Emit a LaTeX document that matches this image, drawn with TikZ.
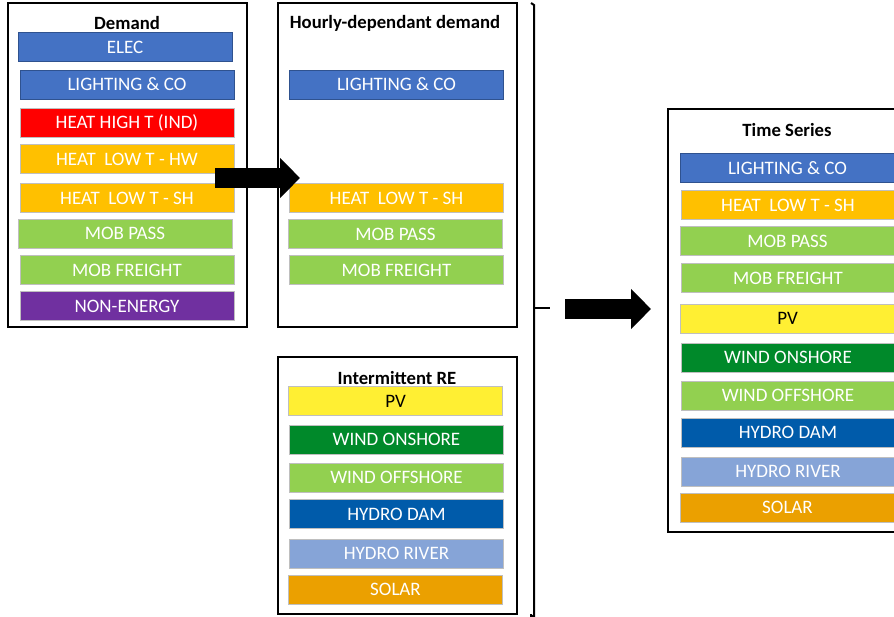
\documentclass[tikz,border=0pt]{standalone}
\usepackage{fontspec}
\setmainfont{Carlito}
\usetikzlibrary{arrows.meta}
\definecolor{cblue}{HTML}{4472C4}
\definecolor{cbluedark}{HTML}{2F528F}
\definecolor{cred}{HTML}{FF0000}
\definecolor{cgold}{HTML}{FFC000}
\definecolor{cgreen}{HTML}{92D050}
\definecolor{cpurple}{HTML}{7030A0}
\definecolor{cyellow}{HTML}{FFEF33}
\definecolor{cdkgreen}{HTML}{00892A}
\definecolor{cdkblue}{HTML}{005BAA}
\definecolor{cltblue}{HTML}{86A4D7}
\definecolor{csolar}{HTML}{EBA000}
\tikzstyle{bar} = [draw=black!25, line width=0.8pt, rectangle, minimum width=214pt, minimum height=29pt, inner sep=0pt, text=white, font=\fontsize{19}{22}\selectfont]
\tikzstyle{bluebar} = [bar, fill=cblue, draw=cbluedark]
\tikzstyle{frame} = [draw, line width=2pt]
\tikzstyle{title} = [font=\bfseries\fontsize{18.7}{22}\selectfont]
\tikzstyle{bigarrow} = [line width=20pt, -{Triangle[length=20pt,width=39pt]}]

\begin{document}
\begin{tikzpicture}[x=1pt,y=-1pt]
	\useasboundingbox (0,0) rectangle (894,617);
	\clip (0,0) rectangle (894,617);

	% demand column
	\draw [frame] (8,3) rectangle (247,327);
	\node [title] (demand) at (127,23) {Demand};
	\node [bluebar] (d1) at (125,47) {ELEC};
	\node [bluebar] (d2) at (127,84.5) {LIGHTING \& CO};
	\node [bar,fill=cred] (d3) at (127,122.5) {HEAT HIGH T (IND)};
	\node [bar,fill=cgold] (d4) at (127,159) {HEAT\ \ LOW T - HW};
	\node [bar,fill=cgold] (d5) at (127,198) {HEAT\ \ LOW T - SH};
	\node [bar,fill=cgreen] (d6) at (125,233.5) {MOB PASS};
	\node [bar,fill=cgreen] (d7) at (127,270) {MOB FREIGHT};
	\node [bar,fill=cpurple] (d8) at (127,306) {NON-ENERGY};

	% hourly-dependant demand
	\draw [frame] (278,3) rectangle (517,327);
	\node [title] (hourly) at (395,23) {Hourly-dependant demand};
	\node [bluebar] (h1) at (396.5,84.5) {LIGHTING \& CO};
	\node [bar,fill=cgold] (h2) at (396.5,198) {HEAT\ \ LOW T - SH};
	\node [bar,fill=cgreen] (h3) at (395.5,234) {MOB PASS};
	\node [bar,fill=cgreen] (h4) at (396.5,270) {MOB FREIGHT};

	% intermittent RE
	\draw [frame] (278,357) rectangle (517,614);
	\node [title] (re) at (397,378) {Intermittent RE};
	\node [bar,fill=cyellow,text=black] (r1) at (395.5,401) {PV};
	\node [bar,fill=cdkgreen] (r2) at (396.5,439.5) {WIND ONSHORE};
	\node [bar,fill=cgreen] (r3) at (396.5,477.5) {WIND OFFSHORE};
	\node [bar,fill=cdkblue] (r4) at (396.5,514) {HYDRO DAM};
	\node [bar,fill=cltblue] (r5) at (396.5,553.5) {HYDRO RIVER};
	\node [bar,fill=csolar] (r6) at (395.5,589.5) {SOLAR};

	% time series
	\draw [frame] (668,109) rectangle (906,532);
	\node [title] (ts) at (787,130) {Time Series};
	\node [bluebar] (t1) at (787.5,168) {LIGHTING \& CO};
	\node [bar,fill=cgold] (t2) at (788,205) {HEAT\ \ LOW T - SH};
	\node [bar,fill=cgreen] (t3) at (787.5,241) {MOB PASS};
	\node [bar,fill=cgreen] (t4) at (788,278) {MOB FREIGHT};
	\node [bar,fill=cyellow,text=black] (t5) at (787.5,318.5) {PV};
	\node [bar,fill=cdkgreen] (t6) at (788,357.5) {WIND ONSHORE};
	\node [bar,fill=cgreen] (t7) at (788,395.5) {WIND OFFSHORE};
	\node [bar,fill=cdkblue] (t8) at (788,432.5) {HYDRO DAM};
	\node [bar,fill=cltblue] (t9) at (788,471.5) {HYDRO RIVER};
	\node [bar,fill=csolar] (t10) at (787.5,507.5) {SOLAR};

	% bracket round the two middle boxes
	\coordinate (bt) at (531,3);
	\coordinate (bb) at (531,614);
	\coordinate (bm) at (534,308);
	\coordinate (bk) at (550,308);
	\draw [line width=2pt] (bt) -- ++(3,2) |- ([yshift=-2pt]bb) -- (bb);
	\draw [line width=2pt] (bm) -- (bk);

	% block arrows
	\coordinate (a1) at (215,178);
	\coordinate (a1e) at (300,178);
	\coordinate (a2) at (565,309);
	\coordinate (a2e) at (651,309);
	\draw [bigarrow] (a1) -- (a1e);
	\draw [bigarrow] (a2) -- (a2e);

\end{tikzpicture}
\end{document}
